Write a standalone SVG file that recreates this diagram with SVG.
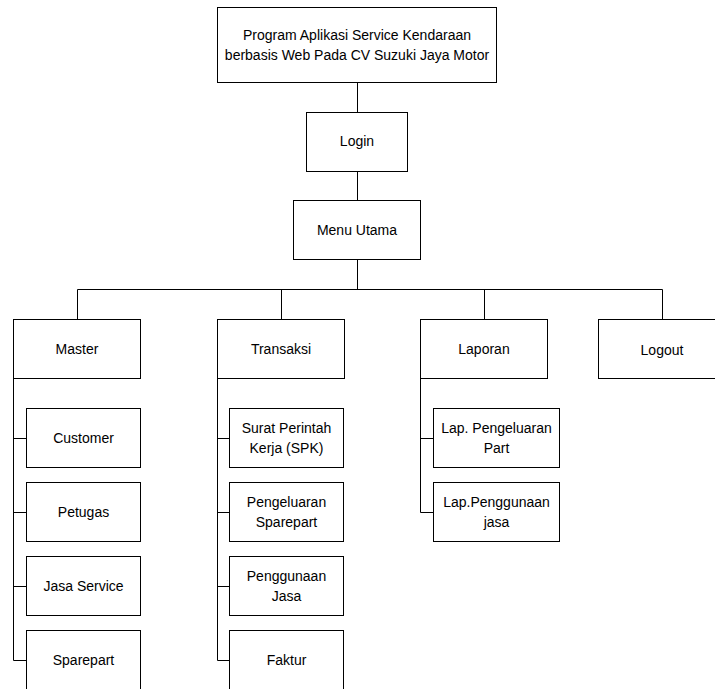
<svg xmlns="http://www.w3.org/2000/svg" width="715" height="689" viewBox="0 0 715 689">
<style>
rect{fill:#fff;stroke:#000;stroke-width:1}
.c line,.c polyline{stroke:#000;stroke-width:1;fill:none}
text{font-family:"Liberation Sans",Arial,sans-serif;font-size:14px;fill:#000;text-anchor:middle}
</style>
<rect x="0" y="0" width="715" height="689" style="stroke:none"/>
<g class="c" id="connectors">
<line x1="357.5" y1="82" x2="357.5" y2="112"/>
<line x1="357.5" y1="171" x2="357.5" y2="200"/>
<line x1="357.5" y1="259" x2="357.5" y2="289.5"/>
<line x1="77.5" y1="289.5" x2="662.5" y2="289.5"/>
<line x1="77.5" y1="289.5" x2="77.5" y2="319"/>
<line x1="281.5" y1="289.5" x2="281.5" y2="319"/>
<line x1="484.5" y1="289.5" x2="484.5" y2="319"/>
<line x1="662.5" y1="289.5" x2="662.5" y2="319"/>
<line x1="13.5" y1="379" x2="13.5" y2="660.5"/>
<line x1="13.5" y1="438.5" x2="26" y2="438.5"/>
<line x1="13.5" y1="512.5" x2="26" y2="512.5"/>
<line x1="13.5" y1="586.5" x2="26" y2="586.5"/>
<line x1="13.5" y1="660.5" x2="26" y2="660.5"/>
<line x1="217.5" y1="379" x2="217.5" y2="660.5"/>
<line x1="217.5" y1="438.5" x2="229" y2="438.5"/>
<line x1="217.5" y1="512.5" x2="229" y2="512.5"/>
<line x1="217.5" y1="586.5" x2="229" y2="586.5"/>
<line x1="217.5" y1="660.5" x2="229" y2="660.5"/>
<line x1="420.5" y1="379" x2="420.5" y2="512.5"/>
<line x1="420.5" y1="438.5" x2="433" y2="438.5"/>
<line x1="420.5" y1="512.5" x2="433" y2="512.5"/>
</g>
<g id="root"><rect x="217.5" y="7.5" width="279" height="75"/><text x="357" y="40">Program Aplikasi Service Kendaraan</text><text x="357" y="60">berbasis Web Pada CV Suzuki Jaya Motor</text></g>
<g id="login"><rect x="306.5" y="112.5" width="101" height="59"/><text x="357" y="146">Login</text></g>
<g id="menu"><rect x="293.5" y="200.5" width="127" height="59"/><text x="357" y="235">Menu Utama</text></g>
<g id="master"><rect x="13.5" y="319.5" width="127" height="59"/><text x="77" y="354">Master</text></g>
<g id="transaksi"><rect x="217.5" y="319.5" width="127" height="59"/><text x="281" y="354">Transaksi</text></g>
<g id="laporan"><rect x="420.5" y="319.5" width="127" height="59"/><text x="484" y="354">Laporan</text></g>
<g id="logout"><rect x="598.5" y="319.5" width="127" height="59"/><text x="662" y="355">Logout</text></g>
<g id="customer"><rect x="26.5" y="408.5" width="114" height="59"/><text x="83.5" y="443">Customer</text></g>
<g id="petugas"><rect x="26.5" y="482.5" width="114" height="59"/><text x="83.5" y="517">Petugas</text></g>
<g id="jasaservice"><rect x="26.5" y="556.5" width="114" height="59"/><text x="83.5" y="591">Jasa Service</text></g>
<g id="sparepart"><rect x="26.5" y="630.5" width="114" height="62"/><text x="83.5" y="665">Sparepart</text></g>
<g id="spk"><rect x="229.5" y="408.5" width="114" height="59"/><text x="286.5" y="433">Surat Perintah</text><text x="286.5" y="453">Kerja (SPK)</text></g>
<g id="pengeluaran"><rect x="229.5" y="482.5" width="114" height="59"/><text x="286.5" y="507">Pengeluaran</text><text x="286.5" y="527">Sparepart</text></g>
<g id="penggunaan"><rect x="229.5" y="556.5" width="114" height="59"/><text x="286.5" y="581">Penggunaan</text><text x="286.5" y="601">Jasa</text></g>
<g id="faktur"><rect x="229.5" y="630.5" width="114" height="62"/><text x="286.5" y="665">Faktur</text></g>
<g id="lappart"><rect x="433.5" y="408.5" width="126" height="59"/><text x="496.5" y="433">Lap. Pengeluaran</text><text x="496.5" y="453">Part</text></g>
<g id="lapjasa"><rect x="433.5" y="482.5" width="126" height="59"/><text x="496.5" y="507">Lap.Penggunaan</text><text x="496.5" y="527">jasa</text></g>
</svg>
